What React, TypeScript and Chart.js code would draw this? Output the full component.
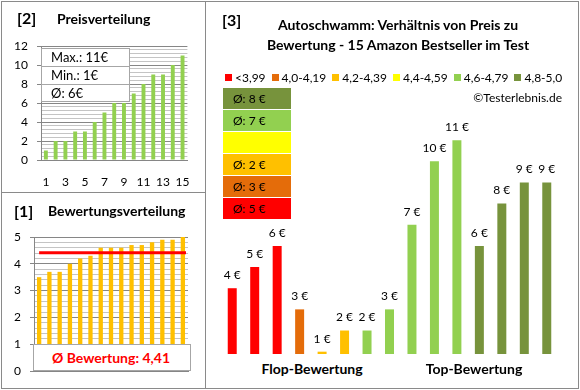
import React, { useEffect, useRef } from "react";
import { Chart, registerables } from "chart.js";

Chart.register(...registerables);

const FONT = "Lato, 'Open Sans', sans-serif";

// ---------- data: panel [2] Preisverteilung ----------
const rankLabels = ["1", "2", "3", "4", "5", "6", "7", "8", "9", "10", "11", "12", "13", "14", "15"];
const priceDistribution = [1, 2, 2, 3, 3, 4, 5, 6, 6, 7, 8, 9, 9, 10, 11];
const priceStats = ["Max.: 11€", "Min.: 1€", "Ø: 6€"];
const priceAxisMax = 12;

// ---------- data: panel [1] Bewertungsverteilung ----------
const ratingDistribution = [3.5, 3.7, 3.7, 4.0, 4.2, 4.3, 4.6, 4.6, 4.6, 4.7, 4.7, 4.8, 4.9, 4.9, 5.0];
const ratingAverage = 4.41;
const ratingAverageLabel = "Ø Bewertung: 4,41";
const ratingAxisMax = 5;

// ---------- data: panel [3] Preis zu Bewertung ----------
const chartTitle = ["Autoschwamm: Verhältnis von Preis zu", "Bewertung - 15 Amazon Bestseller im Test"];
const productPrices = [4, 5, 6, 3, 1, 2, 2, 3, 7, 10, 11, 6, 8, 9, 9];
const productClass = [0, 0, 0, 1, 2, 2, 4, 4, 4, 4, 4, 5, 5, 5, 5];
const classLabels = ["<3,99", "4,0-4,19", "4,2-4,39", "4,4-4,59", "4,6-4,79", "4,8-5,0"];
const classColors = ["#ff0000", "#e46c0a", "#ffc000", "#ffff00", "#92d050", "#77933c"];
const classAverageLabels = ["Ø: 5 €", "Ø: 3 €", "Ø: 2 €", "", "Ø: 7 €", "Ø: 8 €"];
const groupLabels = ["Flop-Bewertung", "Top-Bewertung"];
const copyright = "©Testerlebnis.de";

const GRID_MAJOR = "#868686";
const GRID_MINOR = "#c4c4c4";
const FRAME = "#8a8a8a";

const isMultiple = (v: number, m: number) => Math.abs(v / m - Math.round(v / m)) < 1e-6;

function ChartCanvas(props: { left: number; top: number; width: number; height: number; make: () => any }) {
  const ref = useRef<HTMLCanvasElement>(null);
  useEffect(() => {
    const chart = new Chart(ref.current as HTMLCanvasElement, props.make());
    return () => chart.destroy();
  }, []);
  return (
    <canvas
      ref={ref}
      width={props.width}
      height={props.height}
      style={{ position: "absolute", left: props.left, top: props.top, width: props.width, height: props.height }}
    />
  );
}

const priceConfig = () => ({
  type: "bar",
  data: {
    labels: rankLabels,
    datasets: [
      { data: priceDistribution, backgroundColor: "#92d050", barPercentage: 0.4, categoryPercentage: 1 },
    ],
  },
  options: {
    animation: false,
    responsive: false,
    devicePixelRatio: 1,
    layout: { padding: { top: 46, right: 15, left: 0, bottom: 0 } },
    plugins: { legend: { display: false }, tooltip: { enabled: false } },
    scales: {
      x: {
        grid: { display: false, drawTicks: false },
        border: { color: GRID_MAJOR },
        ticks: {
          autoSkip: false,
          maxRotation: 0,
          padding: 15,
          color: "#000",
          font: { family: FONT, size: 12 },
          callback: (_v: any, i: number) => (i % 2 === 0 ? rankLabels[i] : ""),
        },
        afterFit: (s: any) => {
          s.height = 32;
        },
      },
      y: {
        min: 0,
        max: priceAxisMax,
        ticks: {
          stepSize: 0.4,
          autoSkip: false,
          padding: 9,
          color: "#000",
          font: { family: FONT, size: 12 },
          callback: (v: number) => (isMultiple(v, 2) ? String(Math.round(v)) : ""),
        },
        grid: {
          color: (c: any) => (c.tick && isMultiple(c.tick.value, 2) ? GRID_MAJOR : GRID_MINOR),
          tickColor: (c: any) => (c.tick && isMultiple(c.tick.value, 2) ? GRID_MAJOR : "rgba(0,0,0,0)"),
          tickLength: 4,
        },
        border: { color: GRID_MAJOR },
        afterFit: (s: any) => {
          s.width = 41;
        },
      },
    },
  },
});

const avgLinePlugin = {
  id: "avgLine",
  afterDatasetsDraw(chart: any) {
    const { ctx, scales, chartArea } = chart;
    const py = scales.y.getPixelForValue(ratingAverage);
    ctx.save();
    ctx.strokeStyle = "#ff0000";
    ctx.lineWidth = 3;
    ctx.beginPath();
    ctx.moveTo(scales.x.getPixelForValue(0), py);
    ctx.lineTo(chartArea.right - 2, py);
    ctx.stroke();
    ctx.restore();
  },
};

const ratingConfig = () => ({
  type: "bar",
  data: {
    labels: rankLabels,
    datasets: [
      { data: ratingDistribution, backgroundColor: "#ffc000", barPercentage: 0.42, categoryPercentage: 1 },
    ],
  },
  plugins: [avgLinePlugin],
  options: {
    animation: false,
    responsive: false,
    devicePixelRatio: 1,
    layout: { padding: { top: 45, right: 17, left: 0, bottom: 0 } },
    plugins: { legend: { display: false }, tooltip: { enabled: false } },
    scales: {
      x: {
        grid: { display: false, drawTicks: false },
        border: { color: GRID_MAJOR },
        ticks: { display: false },
        afterFit: (s: any) => {
          s.height = 17;
        },
      },
      y: {
        min: 0,
        max: ratingAxisMax,
        ticks: {
          stepSize: 0.2,
          autoSkip: false,
          padding: 9,
          color: "#000",
          font: { family: FONT, size: 12 },
          callback: (v: number) => (isMultiple(v, 1) ? String(Math.round(v)) : ""),
        },
        grid: {
          color: (c: any) => (c.tick && isMultiple(c.tick.value, 1) ? GRID_MAJOR : GRID_MINOR),
          tickColor: (c: any) => (c.tick && isMultiple(c.tick.value, 1) ? GRID_MAJOR : "rgba(0,0,0,0)"),
          tickLength: 4,
        },
        border: { color: GRID_MAJOR },
        afterFit: (s: any) => {
          s.width = 34;
        },
      },
    },
  },
});

const valueLabelPlugin = {
  id: "valueLabels",
  afterDatasetsDraw(chart: any) {
    const { ctx } = chart;
    const meta = chart.getDatasetMeta(0);
    ctx.save();
    ctx.font = `12px ${FONT}`;
    ctx.fillStyle = "#000";
    ctx.textAlign = "center";
    ctx.textBaseline = "middle";
    meta.data.forEach((bar: any, i: number) => {
      ctx.fillText(`${productPrices[i]} €`, bar.x, bar.y - 13);
    });
    ctx.restore();
  },
};

const productConfig = () => ({
  type: "bar",
  data: {
    labels: rankLabels,
    datasets: [
      {
        data: productPrices,
        backgroundColor: productClass.map((c) => classColors[c]),
        barPercentage: 0.4,
        categoryPercentage: 1,
      },
    ],
  },
  plugins: [valueLabelPlugin],
  options: {
    animation: false,
    responsive: false,
    devicePixelRatio: 1,
    layout: { padding: { top: 19, right: 12, left: 11, bottom: 0 } },
    plugins: { legend: { display: false }, tooltip: { enabled: false } },
    scales: {
      x: { display: false },
      y: { display: false, min: 0.89, max: 12 },
    },
  },
});

const abs = (o: any) => ({ position: "absolute" as const, whiteSpace: "nowrap" as const, ...o });

export default function App() {
  return (
    <div
      style={{
        position: "fixed",
        left: 0,
        top: 0,
        width: 580,
        height: 390,
        background: "#fff",
        fontFamily: FONT,
        color: "#000",
        overflow: "hidden",
      }}
    >
      <ChartCanvas left={0} top={0} width={205} height={192} make={priceConfig} />
      <ChartCanvas left={0} top={192} width={205} height={196} make={ratingConfig} />
      <ChartCanvas left={210} top={100} width={360} height={254} make={productConfig} />

      {/* panel [2] texts */}
      <div style={abs({ left: 17, top: 8, height: 20, lineHeight: "20px", fontSize: 16, fontWeight: 700 })}>[2]</div>
      <div style={abs({ left: 57, top: 9, height: 20, lineHeight: "20px", fontSize: 14, fontWeight: 700 })}>
        Preisverteilung
      </div>
      <div
        style={abs({
          left: 41,
          top: 48,
          width: 89,
          height: 54,
          background: "#fff",
          border: "1px solid #a6a6a6",
          boxSizing: "border-box",
        })}
      >
        {priceStats.map((s, i) => (
          <div
            key={i}
            style={{
              height: 17,
              lineHeight: "17px",
              fontSize: 13,
              paddingLeft: 9,
              borderTop: i > 0 ? "1px solid #a6a6a6" : "none",
            }}
          >
            {s}
          </div>
        ))}
      </div>

      {/* panel [1] texts */}
      <div style={abs({ left: 14, top: 201, height: 20, lineHeight: "20px", fontSize: 16, fontWeight: 700 })}>[1]</div>
      <div style={abs({ left: 48, top: 201, height: 20, lineHeight: "20px", fontSize: 14, fontWeight: 700 })}>
        Bewertungsverteilung
      </div>
      <div
        style={abs({
          left: 33,
          top: 344,
          width: 158,
          height: 27,
          background: "#fff",
          border: "1px solid #a6a6a6",
          boxSizing: "border-box",
          textAlign: "center",
          lineHeight: "25px",
          fontSize: 14,
          fontWeight: 700,
          color: "#ff0000",
          paddingRight: 2,
        })}
      >
        {ratingAverageLabel}
      </div>

      {/* panel [3] texts */}
      <div style={abs({ left: 222, top: 10, height: 20, lineHeight: "20px", fontSize: 16, fontWeight: 700 })}>[3]</div>
      {chartTitle.map((t, i) => (
        <div
          key={i}
          style={abs({
            left: 248,
            width: 300,
            top: 15 + i * 20,
            height: 20,
            lineHeight: "20px",
            textAlign: "center",
            fontSize: 14,
            fontWeight: 700,
          })}
        >
          {t}
        </div>
      ))}
      <div style={abs({ left: 225, top: 68, height: 18, display: "flex", alignItems: "center", gap: 6, fontSize: 12 })}>
        {classLabels.map((l, i) => (
          <div key={i} style={{ display: "flex", alignItems: "center", gap: 3 }}>
            <div style={{ width: 7, height: 7, background: classColors[i] }} />
            <span>{l}</span>
          </div>
        ))}
      </div>
      <div style={abs({ left: 400, width: 162, top: 89, height: 18, lineHeight: "18px", textAlign: "right", fontSize: 12 })}>
        {copyright}
      </div>
      {classColors
        .map((c, i) => ({ c, label: classAverageLabels[i] }))
        .reverse()
        .map((b, i) => (
          <div
            key={i}
            style={abs({
              left: 223,
              top: 88 + i * 22,
              width: 68,
              height: 21,
              background: b.c,
              lineHeight: "21px",
              fontSize: 12,
              paddingLeft: 10,
              boxSizing: "border-box",
            })}
          >
            {b.label}
          </div>
        ))}
      {groupLabels.map((g, i) => (
        <div
          key={i}
          style={abs({
            left: (i === 0 ? 312 : 474) - 70,
            width: 140,
            top: 359,
            height: 20,
            lineHeight: "20px",
            textAlign: "center",
            fontSize: 14,
            fontWeight: 700,
          })}
        >
          {g}
        </div>
      ))}

      {/* frame */}
      <div style={abs({ left: 1, top: 1, width: 578, height: 388, border: `1px solid ${FRAME}`, boxSizing: "border-box" })} />
      <div style={abs({ left: 205, top: 1, width: 1, height: 388, background: FRAME })} />
      <div style={abs({ left: 1, top: 192, width: 205, height: 1, background: FRAME })} />
    </div>
  );
}
